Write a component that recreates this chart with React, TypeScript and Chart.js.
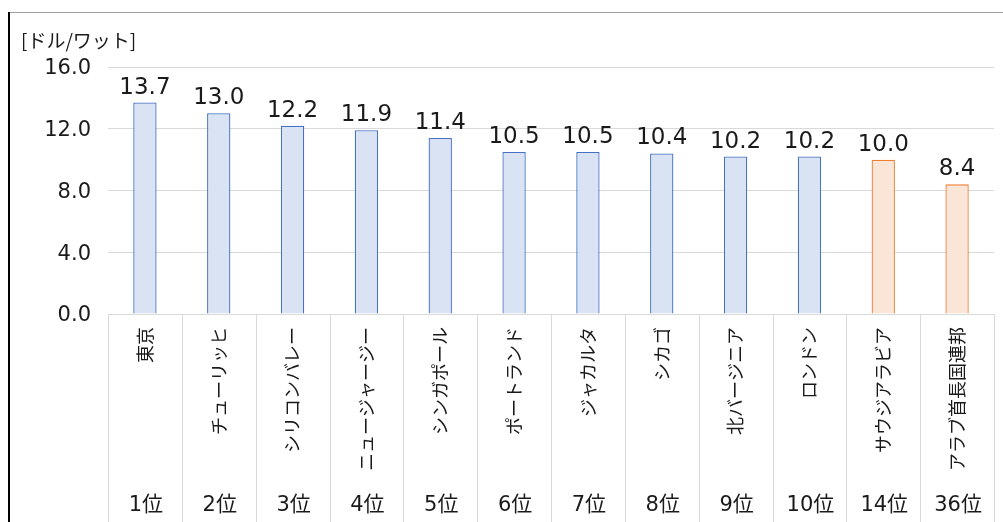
import React, { useEffect, useRef } from "react";
import { Chart, registerables } from "chart.js";

Chart.register(...registerables);

const categories = [
  "東京",
  "チューリッヒ",
  "シリコンバレー",
  "ニュージャージー",
  "シンガポール",
  "ポートランド",
  "ジャカルタ",
  "シカゴ",
  "北バージニア",
  "ロンドン",
  "サウジアラビア",
  "アラブ首長国連邦",
];
const ranks = ["1位", "2位", "3位", "4位", "5位", "6位", "7位", "8位", "9位", "10位", "14位", "36位"];
const values = [13.7, 13.0, 12.2, 11.9, 11.4, 10.5, 10.5, 10.4, 10.2, 10.2, 10.0, 8.4];
const highlighted = [false, false, false, false, false, false, false, false, false, false, true, true];
const yTicks = [0, 4, 8, 12, 16];
const unitLabel = "[ドル/ワット]";

const BLUE_FILL = "#DAE3F3";
const BLUE_LINE = "#4472C4";
const ORANGE_FILL = "#FBE5D6";
const ORANGE_LINE = "#ED7D31";
const GRID = "#d9d9d9";
const TEXT = "#1a1a1a";

const decorPlugin = {
  id: "decor",
  beforeDraw(chart: any) {
    const ctx = chart.ctx;
    ctx.save();
    ctx.fillStyle = "#ffffff";
    ctx.fillRect(0, 0, chart.width, chart.height);
    // frame
    ctx.strokeStyle = "#a0a0a0";
    ctx.lineWidth = 1;
    ctx.beginPath();
    ctx.moveTo(9, 12.5);
    ctx.lineTo(chart.width, 12.5);
    ctx.stroke();
    ctx.strokeStyle = "#000000";
    ctx.lineWidth = 2;
    ctx.beginPath();
    ctx.moveTo(9, 12);
    ctx.lineTo(9, chart.height);
    ctx.stroke();
    ctx.restore();
  },
  afterDraw(chart: any) {
    const ctx = chart.ctx;
    const xs = chart.scales.x;
    const area = chart.chartArea;
    ctx.save();
    // category table separators
    ctx.strokeStyle = GRID;
    ctx.lineWidth = 1;
    const n = categories.length;
    const step = (xs.getPixelForValue(n - 1) - xs.getPixelForValue(0)) / (n - 1);
    for (let i = 0; i <= n; i++) {
      const x = Math.round(xs.getPixelForValue(i) - step / 2) + 0.5;
      ctx.beginPath();
      ctx.moveTo(x, area.bottom);
      ctx.lineTo(x, chart.height);
      ctx.stroke();
    }
    // rank labels
    ctx.fillStyle = TEXT;
    ctx.font = '21px "DejaVu Sans", "Noto Sans CJK JP"';
    ctx.textAlign = "center";
    ctx.textBaseline = "middle";
    ranks.forEach((r, i) => {
      ctx.fillText(r, xs.getPixelForValue(i) + 1, 506);
    });
    // data labels
    const meta = chart.getDatasetMeta(0);
    ctx.font = '23px "DejaVu Sans", "Noto Sans CJK JP"';
    ctx.textBaseline = "alphabetic";
    meta.data.forEach((bar: any, i: number) => {
      ctx.fillText(values[i].toFixed(1), bar.x, bar.y - 9);
    });
    // unit label
    ctx.font = '19px "Noto Sans CJK JP", "DejaVu Sans"';
    ctx.textAlign = "left";
    ctx.textBaseline = "middle";
    ctx.fillText(unitLabel, 21, 41);
    ctx.restore();
  },
};

export default function App() {
  const ref = useRef<HTMLCanvasElement | null>(null);
  useEffect(() => {
    if (!ref.current) return;
    const chart = new Chart(ref.current, {
      type: "bar",
      data: {
        labels: categories,
        datasets: [
          {
            data: values,
            backgroundColor: highlighted.map((h) => (h ? ORANGE_FILL : BLUE_FILL)),
            borderColor: highlighted.map((h) => (h ? ORANGE_LINE : BLUE_LINE)),
            borderWidth: 1.3,
            categoryPercentage: 1,
            barPercentage: 0.316,
          },
        ],
      },
      options: {
        responsive: false,
        animation: false,
        layout: { padding: { top: 67, right: 9, left: 0, bottom: 0 } },
        plugins: { legend: { display: false }, tooltip: { enabled: false } },
        scales: {
          x: {
            grid: { display: false, drawTicks: false },
            border: { display: false },
            afterFit: (s: any) => {
              s.height = 208;
            },
            ticks: {
              autoSkip: false,
              minRotation: 90,
              maxRotation: 90,
              padding: 13,
              color: TEXT,
              font: { family: '"Noto Sans CJK JP"', size: 18 },
            },
          },
          y: {
            min: 0,
            max: 16,
            afterFit: (s: any) => {
              s.width = 108;
            },
            afterBuildTicks: (s: any) => {
              s.ticks = yTicks.map((v) => ({ value: v }));
            },
            grid: { color: GRID, lineWidth: 1, drawTicks: false },
            border: { display: false },
            ticks: {
              padding: 17,
              labelOffset: 2,
              color: TEXT,
              font: { family: '"DejaVu Sans"', size: 21 },
              callback: (v: any) => Number(v).toFixed(1),
            },
          },
        },
      },
      plugins: [decorPlugin],
    });
    return () => chart.destroy();
  }, []);
  return (
    <div style={{ position: "fixed", left: 0, top: 0, width: 1003, height: 522, background: "#fff" }}>
      <canvas ref={ref} width={1003} height={522} style={{ display: "block" }} />
    </div>
  );
}
